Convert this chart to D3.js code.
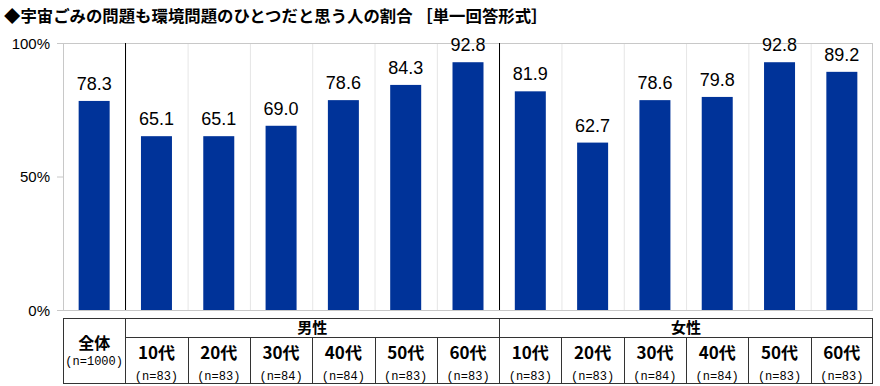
<!DOCTYPE html>
<html>
<head>
<meta charset="utf-8">
<script src="https://cdn.jsdelivr.net/npm/d3@7"></script>
<style>
  body { margin: 0; background: #fff; }
  text { font-family: "Liberation Sans", Arial, sans-serif; }
  .jp { font-family: "Noto Sans CJK JP", sans-serif; }
  .mono { font-family: "Liberation Mono", "DejaVu Sans Mono", monospace; }
</style>
</head>
<body>
<div id="chart"></div>
<script>
var title = '◆宇宙ごみの問題も環境問題のひとつだと思う人の割合 ［単一回答形式］'

var groups = ['全体', '男性', '女性']
var ages = ['10代', '20代', '30代', '40代', '50代', '60代']
var totalValue = [78.3]
var maleValues = [65.1, 65.1, 69.0, 78.6, 84.3, 92.8]
var femaleValues = [81.9, 62.7, 78.6, 79.8, 92.8, 89.2]
var totalN = ['1000']
var maleN = ['83', '83', '84', '84', '83', '83']
var femaleN = ['83', '83', '84', '84', '83', '83']
var yTicks = [0, 50, 100]

var rows = []
rows.push({ key: 'all', group: groups[0], age: groups[0], value: totalValue[0], n: totalN[0] })
ages.forEach((a, i) => rows.push({ key: 'm' + i, group: groups[1], age: a, value: maleValues[i], n: maleN[i] }))
ages.forEach((a, i) => rows.push({ key: 'f' + i, group: groups[2], age: a, value: femaleValues[i], n: femaleN[i] }))

var W = 880, H = 386
var margin = { top: 43, left: 63, right: 7, bottom: 76 }
var plotW = W - margin.left - margin.right
var plotH = H - margin.top - margin.bottom

var svg = d3.select('#chart').append('svg')
  .attr('width', W)
  .attr('height', H)

svg.append('text')
  .attr('class', 'jp')
  .attr('x', 4)
  .attr('y', 22)
  .attr('font-size', 16.4)
  .attr('font-weight', 'bold')
  .attr('fill', '#000')
  .text(title)

var x = d3.scaleBand()
  .domain(rows.map(d => d.key))
  .range([0, plotW])
  .paddingInner(0)

var y = d3.scaleLinear().domain([0, 100]).range([plotH, 0])

var g = svg.append('g').attr('transform', `translate(${margin.left},${margin.top})`)

// light vertical grid
g.selectAll('.vgrid')
  .data(rows.slice(1))
  .enter()
  .append('line')
  .attr('x1', d => x(d.key) + 0.5)
  .attr('x2', d => x(d.key) + 0.5)
  .attr('y1', 0)
  .attr('y2', plotH)
  .attr('stroke', '#e6e6e6')

g.append('rect')
  .attr('x', 0.5).attr('y', 0.5)
  .attr('width', plotW - 1).attr('height', plotH)
  .attr('fill', 'none')
  .attr('stroke', '#c8c8c8')

// group dividers
var dividers = [rows[1].key, rows[7].key]
g.selectAll('.divider')
  .data(dividers)
  .enter()
  .append('line')
  .attr('x1', d => Math.round(x(d)) + 0.5)
  .attr('x2', d => Math.round(x(d)) + 0.5)
  .attr('y1', 0)
  .attr('y2', plotH)
  .attr('stroke', '#000')

var barW = 31
g.selectAll('.bar')
  .data(rows)
  .enter()
  .append('rect')
  .attr('x', d => x(d.key) + x.bandwidth() / 2 - barW / 2)
  .attr('y', d => y(d.value))
  .attr('width', barW)
  .attr('height', d => plotH - y(d.value))
  .attr('fill', '#003399')

g.selectAll('.val')
  .data(rows)
  .enter()
  .append('text')
  .attr('x', d => x(d.key) + x.bandwidth() / 2)
  .attr('y', d => y(d.value) - 11)
  .attr('text-anchor', 'middle')
  .attr('font-size', 18)
  .attr('fill', '#000')
  .text(d => d.value.toFixed(1))

// y axis
var yAxis = d3.axisLeft(y)
  .tickValues(yTicks)
  .tickSize(6)
  .tickFormat(d => d + '%')
g.append('g')
  .call(yAxis)
  .call(a => a.select('.domain').remove())
  .call(a => a.selectAll('line').attr('stroke', '#c8c8c8'))
  .call(a => a.selectAll('text')
    .attr('font-size', 15)
    .attr('fill', '#000')
    .attr('x', -13)
    .attr('dy', '0.36em')
    .style('font-family', '"Liberation Sans", Arial, sans-serif'))

// table
var tTop = 318, tMid = 337.5, tBot = 383
var t = svg.append('g').attr('transform', `translate(${margin.left},0)`)
var lineC = '#333'

t.append('rect')
  .attr('x', 0.5).attr('y', tTop + 0.5)
  .attr('width', plotW - 1).attr('height', tBot - tTop)
  .attr('fill', 'none').attr('stroke', lineC)

t.append('line')
  .attr('x1', x(rows[1].key)).attr('x2', plotW)
  .attr('y1', tMid).attr('y2', tMid)
  .attr('stroke', lineC)

// verticals in table
t.selectAll('.tv')
  .data(rows.slice(1))
  .enter()
  .append('line')
  .attr('x1', d => Math.round(x(d.key)) + 0.5)
  .attr('x2', d => Math.round(x(d.key)) + 0.5)
  .attr('y1', (d, i) => (i === 0 || i === 6) ? tTop : tMid)
  .attr('y2', tBot)
  .attr('stroke', lineC)

// group headers
var male = rows.filter(d => d.group === groups[1])
var female = rows.filter(d => d.group === groups[2])
;[male, female].forEach(arr => {
  var x0 = x(arr[0].key), x1 = x(arr[arr.length - 1].key) + x.bandwidth()
  t.append('text')
    .attr('class', 'jp')
    .attr('x', (x0 + x1) / 2)
    .attr('y', 333)
    .attr('text-anchor', 'middle')
    .attr('font-size', 15)
    .attr('font-weight', 'bold')
    .text(arr[0].group)
})

t.selectAll('.age')
  .data(rows)
  .enter()
  .append('text')
  .attr('class', 'jp')
  .attr('x', d => x(d.key) + x.bandwidth() / 2)
  .attr('y', (d, i) => i === 0 ? 349 : 359)
  .attr('text-anchor', 'middle')
  .attr('font-size', (d, i) => i === 0 ? 16 : 17)
  .attr('font-weight', 'bold')
  .text(d => d.age)

t.selectAll('.n')
  .data(rows)
  .enter()
  .append('text')
  .attr('class', 'mono')
  .attr('x', d => x(d.key) + x.bandwidth() / 2)
  .attr('y', (d, i) => i === 0 ? 365 : 380)
  .attr('text-anchor', 'middle')
  .attr('font-size', 12)
  .text(d => '(n=' + d.n + ')')
</script>
</body>
</html>
